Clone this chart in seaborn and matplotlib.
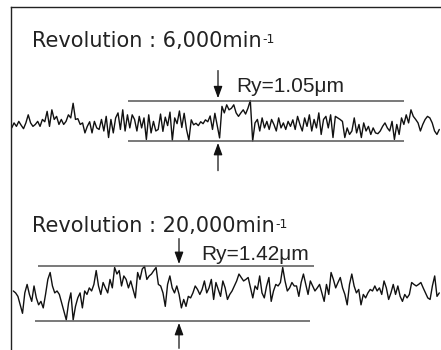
import numpy as np
import pandas as pd
import matplotlib
matplotlib.use("Agg")
import matplotlib.pyplot as plt
import seaborn as sns

# ---------------- data ----------------
# Profile heights in μm, measured from the lower Ry reference line, sampled evenly along the profile
profile_6000 = [
    0.34, 0.47, 0.38, 0.51, 0.41, 0.32, 0.47, 0.68, 0.47, 0.38,
    0.43, 0.51, 0.38, 0.56, 0.50, 0.77, 0.38, 0.81, 0.56, 0.64,
    0.43, 0.56, 0.43, 0.51, 0.68, 0.60, 0.98, 0.56, 0.58, 0.43,
    0.47, 0.21, 0.38, 0.50, 0.21, 0.51, 0.34, 0.30, 0.56, 0.26,
    0.64, 0.09, 0.56, 0.21, 0.60, 0.73, 0.30, 0.81, 0.26, 0.68,
    0.34, 0.68, 0.56, 0.26, 0.64, 0.34, 0.60, 0.04, 0.68, 0.21,
    0.51, 0.26,
    0.30, 0.70, 0.25, 0.62, 0.40, 0.75, 0.02, 0.60, 0.45, 0.78,
    0.35, 0.72, 0.30, 0.02, 0.55, 0.42, 0.46, 0.40, 0.50, 0.45,
    0.55, 0.50, 0.65, 0.30, 0.72, 0.40, 0.08, 0.90, 0.73, 0.94,
    0.81, 0.85, 0.94, 0.73, 0.64, 0.73, 0.81, 0.70, 0.85, 1.05,
    0.00, 0.47, 0.56, 0.26, 0.60, 0.34, 0.51, 0.30, 0.56, 0.43,
    0.26, 0.60, 0.34, 0.47, 0.30, 0.51, 0.38, 0.55,
    0.30, 0.64, 0.43, 0.26, 0.60, 0.38, 0.68, 0.26, 0.56, 0.34,
    0.73, 0.17, 0.56, 0.64, 0.34, 0.68, 0.09, 0.64, 0.60, 0.56,
    0.51, 0.09, 0.34, 0.17, 0.26, 0.60, 0.21, 0.43, 0.09, 0.47,
    0.26, 0.38, 0.17, 0.34, 0.21, 0.19, 0.26, 0.38, 0.47, 0.34,
    0.26, 0.51, 0.04, 0.43, 0.17, 0.60, 0.43, 0.68, 0.47, 0.81,
    0.64, 0.56, 0.47, 0.26, 0.43, 0.56, 0.64, 0.60, 0.47, 0.26,
    0.17, 0.30,
]
profile_20000 = [
    0.78, 0.73, 0.64, 0.42, 0.20, 0.73, 0.95, 0.69, 0.51, 0.91,
    0.60, 0.42, 0.51, 0.34, 0.69, 1.08, 1.26, 0.91, 0.73, 0.78,
    0.69, 0.47, 0.25, 0.03, 0.47, 0.73, 0.03, 0.38, 0.60, 0.73,
    0.34, 0.78, 0.69, 0.86, 0.78, 0.95, 1.31, 0.91, 0.69, 1.00,
    0.86, 0.73, 1.08, 0.86, 1.39, 1.22, 1.31, 0.91, 1.17, 1.08,
    0.86, 1.04, 0.82, 0.60, 1.26, 1.08, 1.35, 1.42, 1.08, 1.17,
    1.22, 1.31,
    1.39, 0.95, 0.91, 0.73, 0.38, 0.95, 1.17, 0.86, 0.73, 0.91,
    0.69, 0.34, 0.56, 0.38, 0.64, 0.60, 0.73, 0.91, 0.82, 0.69,
    0.82, 1.04, 0.73, 0.86, 1.08, 0.56, 1.00, 0.82, 0.64, 1.04,
    0.86, 0.56, 0.69, 0.78, 0.91, 1.04, 1.22, 1.13, 1.04, 1.08,
    1.13, 0.86, 0.60, 0.91, 0.82, 1.17, 0.73, 0.60, 0.91, 1.13,
    0.51, 0.78, 0.95, 0.91, 1.00, 1.39, 1.04, 0.78, 0.86, 1.00,
    0.91,
    0.91, 0.64, 1.00, 1.22, 0.95, 0.69, 1.04, 0.91, 0.78, 0.86,
    0.95, 0.73, 0.51, 0.95, 0.69, 1.26, 1.08, 0.86, 1.00, 1.13,
    0.86, 0.69, 0.42, 0.95, 1.22, 0.91, 0.73, 0.82, 0.42, 0.69,
    0.60, 0.73, 0.82, 0.78, 0.91, 0.78, 0.86, 0.69, 1.04, 0.86,
    0.56, 0.73, 0.95, 0.69, 0.91, 0.64, 0.51, 0.69, 0.60, 0.69,
    1.00, 0.95, 0.91, 0.95, 1.00, 0.86, 0.73, 0.60, 0.56, 0.91,
    1.17, 0.64, 0.73,
]
ry_values = [1.05, 1.42]
revolutions = ["6,000", "20,000"]
title_texts = ["Revolution : " + r + "min" for r in revolutions]
ry_texts = ["Ry=%.2fμm" % v for v in ry_values]
unit_exponent = "-1"

# ---------------- styling / layout ----------------
sns.set_theme(style="white")
plt.rcParams['font.family'] = ['Liberation Sans', 'DejaVu Sans']

W, H = 441, 350
PX_PER_UM = 38.5
fig = plt.figure(figsize=(W / 100, H / 100), dpi=100)
ax = fig.add_axes([11 / W, 0, 430 / W, 343 / H])
ax.set_xlim(0, 430)
ax.set_ylim(0, 343 / PX_PER_UM)
ax.set_xticks([])
ax.set_yticks([])
for s in ["right", "bottom"]:
    ax.spines[s].set_visible(False)
for s in ["top", "left"]:
    ax.spines[s].set_color("#222222")
    ax.spines[s].set_linewidth(1.0)

def ypix(py):
    return (H - py) / PX_PER_UM

# vertical offsets (lower Ry line) and horizontal extent of each profile
offsets = [ypix(141), ypix(321)]
x_ranges = [(0.7, 428.3), (2.3, 428.3)]
profiles = [profile_6000, profile_20000]

rows = []
for i, (prof, off, (x0, x1)) in enumerate(zip(profiles, offsets, x_ranges)):
    xs = np.linspace(x0, x1, len(prof))
    for xv, hv in zip(xs, prof):
        rows.append({"profile": title_texts[i], "x": xv, "y": off + hv})
df = pd.DataFrame(rows)

for name in title_texts:
    sub = df[df["profile"] == name]
    sns.lineplot(data=sub, x="x", y="y", ax=ax, color="#111111", lw=1.0,
                 estimator=None, sort=False, legend=False)
ax.set_xlabel("")
ax.set_ylabel("")

line_color = "#555555"
# Ry reference lines
ax.hlines(offsets[0] + ry_values[0], 117, 393, color=line_color, lw=1.1)
ax.hlines(offsets[0], 117, 393, color=line_color, lw=1.1)
ax.hlines(offsets[1] + ry_values[1], 27, 303, color=line_color, lw=1.1)
ax.hlines(offsets[1], 24, 299, color=line_color, lw=1.1)

arrow_kw = dict(arrowstyle="-|>,head_length=0.6,head_width=0.22", color="#111111",
                lw=0.9, shrinkA=0, shrinkB=0, mutation_scale=12)
arrow_x = [207, 168]
arrow_len = [0.72, 0.66]
for off, ry, ax_x, L in zip(offsets, ry_values, arrow_x, arrow_len):
    ax.annotate("", xy=(ax_x, off + ry + 0.06), xytext=(ax_x, off + ry + 0.06 + L),
                arrowprops=arrow_kw)
    ax.annotate("", xy=(ax_x, off - 0.05), xytext=(ax_x, off - 0.05 - L),
                arrowprops=arrow_kw, annotation_clip=False)

text_color = "#222222"
title_font = ["DejaVu Sans"]
title_pos = [(21, ypix(46.7)), (21, ypix(231.7))]
ry_pos = [(225, ypix(92.3)), (190, ypix(260))]
for t, (tx, ty) in zip(title_texts, title_pos):
    tt = ax.text(tx, ty, t, fontsize=15, color=text_color, ha="left", va="baseline",
                 family=title_font)
    ax.annotate(unit_exponent, xy=(1, 1), xycoords=tt, xytext=(0.5, -1.5),
                textcoords="offset points", fontsize=9, color=text_color,
                ha="left", va="top", family=title_font)
for t, (tx, ty) in zip(ry_texts, ry_pos):
    ax.text(tx, ty, t, fontsize=15, color=text_color, ha="left", va="baseline")

fig.savefig("out.png", dpi=100)
